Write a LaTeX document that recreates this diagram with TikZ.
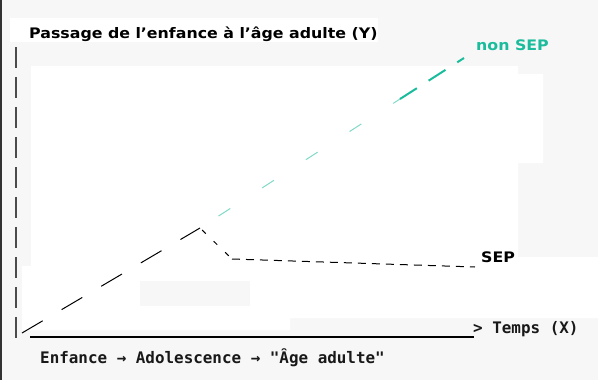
\documentclass[tikz,border=0pt]{standalone}
\usepackage{tikz}
\usepackage{fontspec}
\newfontfamily\labelfont[FakeStretch=1.09]{DejaVu Sans}
\newfontfamily\codefont{DejaVu Sans Mono}
\definecolor{bggray}{RGB}{247,247,247}
\definecolor{nonseptxt}{RGB}{26,188,156}

\begin{document}
\begin{tikzpicture}[x=1pt,y=-1pt,
    lbl/.style={font=\labelfont\bfseries\fontsize{14.5}{17}\selectfont, inner sep=0pt, anchor=base west},
    code/.style={font=\codefont\bfseries\fontsize{15.9}{18}\selectfont, inner sep=0pt, anchor=base west, text=black!90},
    curve/.style={line width=1pt}]
    \useasboundingbox (0,0) rectangle (598,380);
    % fond de la capture
    \fill[bggray] (0,0) rectangle (598,380);
    \fill[white] (10,18) rectangle (378,42);
    \fill[white] (31,66) -- (518,66) -- (518,74) -- (543,74) -- (543,163) -- (518,163) -- (518,257)
        -- (598,257) -- (598,318) -- (290,318) -- (290,330) -- (22,330) -- (22,266) -- (31,266) -- cycle;
    \fill[bggray] (140,281) rectangle (250,306);
    \fill[black!80] (0,0) rectangle (1.5,380);

    % axes
    \coordinate (ytop) at (16,47);
    \coordinate (ybot) at (16,338);
    \coordinate (xstart) at (30,337);
    \coordinate (xend) at (474,337);
    \draw[black!70, line width=2.3pt, dash pattern=on 21pt off 9pt] (ytop)--(ybot);
    \draw[black, line width=2pt] (xstart)--(xend);
    \node[code] (temps) at (473,333) {> Temps (X)};
    \node[code] (phases) at (40,363) {Enfance → Adolescence → "Âge adulte"};
    \node[lbl] (titre) at (29,38) {Passage de l’enfance à l’âge adulte (Y)};

    % courbes
    \coordinate (origine) at (22,333);
    \coordinate (pic) at (200,228);
    \coordinate (chute) at (232,259);
    \coordinate (sepfin) at (475,267);
    \coordinate (milieu) at (400,99);
    \coordinate (nonsepfin) at (464,58);
    \draw[curve, dash pattern=on 24pt off 22pt] (origine)--(pic);
    \draw[curve, dash pattern=on 0pt off 3pt on 5pt off 8pt] (pic)--(chute);
    \draw[curve, dash pattern=on 8pt off 6pt] (chute)--(sepfin);
    \draw[curve, nonseptxt!55, dash pattern=on 0pt off 22pt on 14pt off 16pt] (pic)--(milieu);
    \draw[nonseptxt, line width=2pt, dash pattern=on 20pt off 14pt] (milieu)--(nonsepfin);
    \node[lbl, text=nonseptxt] (nonsep) at (476,50) {non SEP};
    \node[lbl] (sep) at (481,262) {SEP};
\end{tikzpicture}
\end{document}
